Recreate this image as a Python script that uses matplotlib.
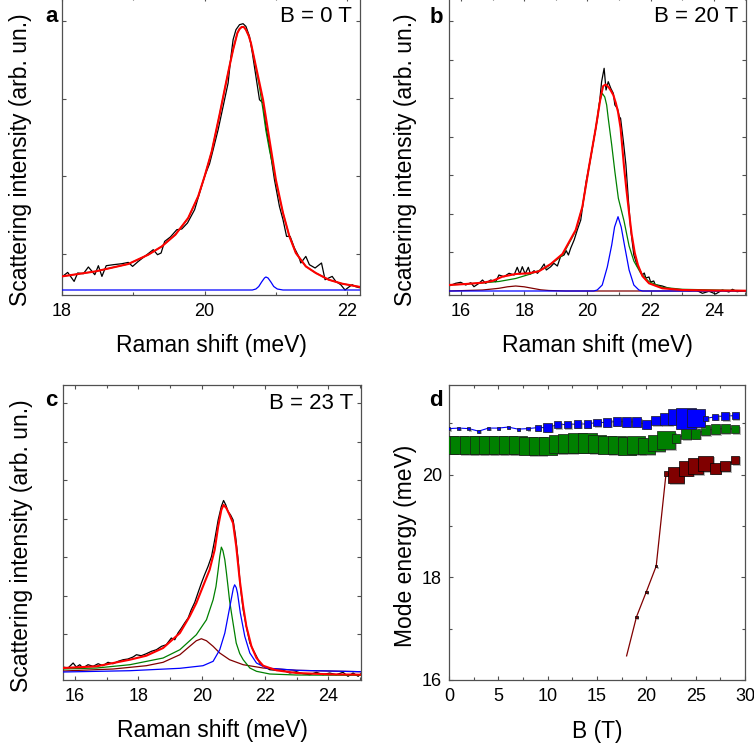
#%%
import numpy as np
import matplotlib
matplotlib.use('Agg')
import matplotlib.pyplot as plt
import matplotlib.patheffects as pe
from matplotlib.ticker import MultipleLocator, FixedLocator, NullFormatter

plt.rcParams['font.family'] = ['Liberation Sans', 'DejaVu Sans']

#%% Panel a, B = 0 T
black_a_E = [18.02, 18.08, 18.17, 18.22, 18.30, 18.37, 18.46, 18.51, 18.56, 18.62, 18.72, 18.84, 18.93, 18.99,
             19.07, 19.19, 19.28, 19.34, 19.39, 19.44, 19.52, 19.61, 19.68, 19.76, 19.86, 19.93, 20.00, 20.07,
             20.12, 20.19, 20.26, 20.33, 20.37, 20.40, 20.44, 20.49, 20.54, 20.58, 20.63, 20.67, 20.72, 20.77,
             20.82, 20.86, 20.91, 20.98, 21.05, 21.10, 21.15, 21.20, 21.26, 21.32, 21.35, 21.42, 21.47, 21.55,
             21.64, 21.69, 21.79, 21.84, 21.91, 21.97, 22.03, 22.07, 22.12, 22.17, 22.20]
black_a_I = [14.3, 17.6, 8.6, 17, 16.3, 23, 15.3, 24.3, 13.6, 24.3, 25.3, 26.3, 27.6, 23.6,
             28.6, 35.3, 40.3, 35.3, 37, 48.6, 53, 60.3, 61, 67, 80.3, 97, 113.6, 126.3,
             140.3, 160.3, 183.6, 207, 233.6, 250.3, 260.3, 265.3, 266.3, 263.6, 253.6, 237, 213.6, 190.3,
             187, 163.6, 143.6, 110.3, 83.6, 70.3, 53.6, 53.6, 42, 33.6, 27, 33.6, 25.3, 22,
             27, 10.3, 13.6, 8.6, 5.3, 0, 3.3, 5.3, 3.3, 2.3, 2.5]
red_a_E = [18.00, 18.47, 18.93, 19.21, 19.40, 19.59, 19.77, 19.91, 20.00, 20.10, 20.21, 20.30, 20.35, 20.40,
           20.46, 20.49, 20.52, 20.55, 20.58, 20.62, 20.65, 20.72, 20.77, 20.82, 20.86, 20.91, 20.95, 21.00,
           21.10, 21.19, 21.28, 21.42, 21.56, 21.74, 21.93, 22.20]
red_a_I = [13.6, 18.6, 26, 35.3, 43.6, 55.3, 72, 93.6, 113.6, 138.6, 175.3, 207, 224, 240.3,
           257, 261, 263, 263, 260.3, 254, 247, 223.6, 207, 190.3, 172.5, 150.3, 132.5, 110.3,
           77, 53.6, 37, 23.6, 17, 10.3, 6.3, 2.8]
green_a_E = [18.00, 18.47, 18.93, 19.21, 19.40, 19.59, 19.77, 19.91, 20.00, 20.10, 20.21, 20.30, 20.35, 20.40,
             20.46, 20.49, 20.52, 20.55, 20.58, 20.62, 20.65, 20.72, 20.77, 20.82, 20.86, 20.91, 20.95, 21.00,
             21.10, 21.19, 21.28, 21.42, 21.56, 21.74, 21.93, 22.20]
green_a_I = [13.6, 18.6, 26, 35.3, 43.6, 55.3, 72, 93.6, 113.6, 138.6, 175.3, 207, 224, 240.3,
             257, 261, 263, 263, 260.3, 254, 247, 222.5, 203, 180, 159.5, 140, 126.5, 108,
             77, 53.6, 37, 23.6, 17, 10.3, 6.3, 2.8]
blue_a_E = [18.00, 20.67, 20.72, 20.76, 20.80, 20.84, 20.86, 20.89, 20.93, 20.97, 21.02, 21.10, 22.20]
blue_a_I = [0, 0, 1, 3.5, 8, 12, 13, 12, 8, 3.5, 1, 0, 0]

#%% Panel b, B = 20 T
black_b_E = [15.62, 15.83, 15.99, 16.15, 16.31, 16.41, 16.57, 16.68, 16.78, 16.94, 17.10, 17.20, 17.36, 17.52,
             17.68, 17.78, 17.86, 17.94, 18.03, 18.13, 18.20, 18.31, 18.42, 18.52, 18.63, 18.70, 18.84, 18.94,
             19.05, 19.15, 19.26, 19.33, 19.40, 19.47, 19.58, 19.68, 19.79, 19.87, 19.96, 20.03, 20.10, 20.19,
             20.32, 20.39, 20.45, 20.53, 20.59, 20.66, 20.74, 20.82, 20.87, 20.95, 21.01, 21.05, 21.14, 21.22,
             21.30, 21.37, 21.47, 21.58, 21.66, 21.74, 21.80, 21.85, 21.95, 22.00, 22.10, 22.15, 22.21, 22.37,
             22.58, 22.79, 23.00, 23.22, 23.43, 23.64, 23.85, 24.06, 24.27, 24.48, 24.59, 24.74, 24.90, 25.02]
black_b_I = [5, 7.7, 8.7, 6, 8.3, 4.3, 7.7, 11, 7.7, 11, 9.3, 16, 14.3, 17.7,
             16, 23.7, 17, 24.3, 17, 23.7, 17, 20.3, 17.7, 21.7, 27, 21, 24.3, 27.7,
             25, 34.3, 36, 40.3, 36, 42.7, 51, 61, 71, 89.3, 109.3, 121, 133, 149.3,
             172.7, 190, 209.3, 222.7, 201, 209.3, 202.7, 197.7, 186, 182.7, 174.3, 172.7, 149.3, 126,
             90, 62, 36, 25, 21, 16, 18, 13, 14, 9, 10, 6, 6, 5,
             2.7, 1.7, 1, 0.3, 1, -2.3, -0.3, -3, 1, -1, 1.7, -0.7, 0.3, 0.3]
red_b_E = [15.62, 16.15, 16.68, 16.99, 17.31, 17.73, 18.15, 18.47, 18.84, 19.21, 19.63, 19.84, 20.05, 20.26,
           20.42, 20.50, 20.58, 20.66, 20.74, 20.82, 20.90, 20.97, 21.05, 21.16, 21.24, 21.32, 21.40, 21.50,
           21.60, 21.74, 21.95, 22.37, 23.00, 24.00, 25.02]
red_b_I = [6, 7, 8.3, 10, 14.3, 17, 17.7, 19.8, 27, 37, 61, 84, 124, 162,
           194, 205, 206.5, 204.3, 200.5, 196, 188, 179, 163, 124, 100, 78, 57, 38,
           26, 15, 7.7, 2.7, 1, 0.5, 0.3]
green_b_E = [15.62, 16.15, 16.68, 17.20, 17.73, 18.20, 18.70, 19.21, 19.63, 19.84, 20.05, 20.26, 20.38, 20.47,
             20.55, 20.61, 20.66, 20.77, 20.87, 20.98, 21.16, 21.32, 21.47, 21.69, 21.95, 22.37, 23.00, 24.06,
             25.02]
green_b_I = [6, 7, 8.1, 9.5, 12.5, 17, 23.5, 35.5, 60, 84, 123, 162, 188, 197.7,
             194, 186, 172.7, 146, 119.3, 92.7, 70, 45, 30, 17.7, 9.3, 3.7, 1.7, 1,
             0.3]
blue_b_E = [15.62, 20.20, 20.31, 20.47, 20.63, 20.77, 20.86, 20.97, 21.07, 21.18, 21.32, 21.47, 21.63, 21.75, 25.02]
blue_b_I = [0, 0, 1, 6, 24, 46, 64, 74.3, 64, 44.7, 21, 6, 1, 0, 0]
dred_b_E = [15.62, 16.68, 16.99, 17.20, 17.47, 17.73, 18.00, 18.26, 18.52, 18.78, 19.31, 25.02]
dred_b_I = [0, 1, 2, 2.7, 4.2, 5, 4.2, 2.7, 1.2, 0.5, 0, 0]

#%% Panel c, B = 23 T
black_c_E = [15.62, 15.78, 15.94, 16.04, 16.15, 16.25, 16.41, 16.57, 16.73, 16.88, 17.04, 17.20, 17.36, 17.52,
             17.67, 17.83, 17.94, 18.09, 18.25, 18.41, 18.57, 18.73, 18.88, 19.04, 19.15, 19.25, 19.36, 19.46,
             19.57, 19.67, 19.78, 19.88, 19.99, 20.09, 20.20, 20.31, 20.41, 20.52, 20.62, 20.69, 20.76, 20.83,
             20.91, 20.99, 21.07, 21.15, 21.22, 21.31, 21.41, 21.52, 21.62, 21.73, 21.83, 21.99, 22.15, 22.36,
             22.57, 22.78, 22.99, 23.20, 23.41, 23.62, 23.83, 24.04, 24.25, 24.46, 24.62, 24.78, 24.94, 25.03]
black_c_I = [5.5, 4.5, 9.5, 5.5, 7.8, 4.5, 7.8, 6.2, 8.8, 6.8, 10.2, 8.8, 11.2, 12.8,
             13.5, 15.5, 17.8, 16.8, 18.8, 21.2, 22.8, 26.2, 27.8, 34.5, 32.8, 39.5, 44.5, 49.5,
             54.5, 62.8, 70.2, 79.5, 89.5, 97.8, 106.2, 116.2, 132.8, 152.8, 166.2, 172.2, 167.8, 161.2,
             157.8, 152.8, 136.2, 112.8, 86.2, 62.8, 46.2, 29.5, 22.8, 16.2, 9.5, 5.5, 2.8, 2.2,
             2.2, -0.5, 0.8, -1.2, -2.2, 0.2, -2.2, -0.5, -2.2, 0.2, -3.8, -0.5, -3.8, -1.2]
red_c_E = [15.62, 16.68, 17.73, 18.25, 18.78, 19.31, 19.62, 19.83, 20.04, 20.25, 20.41, 20.52, 20.62, 20.69,
           20.78, 20.88, 20.99, 21.09, 21.20, 21.31, 21.41, 21.57, 21.73, 21.94, 22.36, 22.99, 24.04, 25.03]
red_c_I = [4.5, 6.2, 12.8, 16.8, 24.5, 39.5, 56.2, 69.5, 86.2, 102.8, 122.8, 146.2, 162.8, 167.8,
           164.5, 157.8, 149.5, 126.2, 92.8, 66.2, 46.2, 26.2, 14.5, 6.8, 2.2, -0.5, -1.8, -2.2]
green_c_E = [15.62, 16.68, 17.73, 18.78, 19.31, 19.83, 20.15, 20.36, 20.45, 20.52, 20.57, 20.62, 20.67, 20.73,
             20.78, 20.83, 20.88, 20.94, 21.09, 21.20, 21.31, 21.52, 21.73, 22.15, 22.99, 25.03]
green_c_I = [3.5, 4.5, 7.8, 14.5, 22.8, 37.8, 52.8, 72.8, 86, 102.8, 116, 125.5, 122, 112.8,
             100, 86.2, 72, 59.5, 29.5, 19, 12.8, 4.5, 1.2, -1.5, -2.5, -2.8]
blue_c_E = [15.62, 17.73, 19.31, 20.04, 20.36, 20.57, 20.73, 20.85, 20.96, 21.00, 21.04, 21.09, 21.13, 21.22,
            21.36, 21.52, 21.73, 22.04, 22.99, 25.03]
blue_c_I = [0.5, 1.8, 4.2, 6.8, 11.2, 22.8, 39.5, 59.5, 77.8, 84.5, 87.8, 85, 79.5, 59.5,
            36.2, 19.5, 9.5, 4.5, 2.2, 0.8]
dred_c_E = [15.62, 17.20, 18.25, 18.78, 19.31, 19.62, 19.83, 19.99, 20.15, 20.36, 20.57, 20.88, 21.31, 21.94,
            22.99, 25.03]
dred_c_I = [1.5, 3.5, 6.8, 10.2, 17.8, 26.2, 31.8, 33.8, 31.8, 26.2, 19.5, 12.8, 7.8, 4.5,
            2.2, 0.8]

#%% Panel d, mode energies vs field (marker side ~ spectral weight)
B_field = list(range(30))
blue_E = [20.90, 20.91, 20.90, 20.85, 20.91, 20.91, 20.93, 20.89, 20.90, 20.92, 20.92, 20.98, 20.98, 20.99, 20.99,
          21.02, 21.02, 21.04, 21.03, 21.03, 20.98, 21.06, 21.09, 21.13, 21.10, 21.10, 21.10, 21.13, 21.15, 21.15]
blue_w = [2.5, 2.5, 2.5, 2.5, 2.5, 2.5, 2.5, 2.5, 3, 5, 7, 6, 6, 6, 6,
          6, 7, 7, 8, 8, 7, 8, 10, 13, 17, 15, 4, 5, 7, 6]
green_E = [20.59, 20.59, 20.58, 20.58, 20.58, 20.58, 20.58, 20.58, 20.57, 20.56, 20.57, 20.60, 20.61, 20.62, 20.62,
           20.60, 20.59, 20.58, 20.57, 20.58, 20.56, 20.62, 20.68, 20.71, 20.79, 20.80, 20.87, 20.89, 20.90, 20.89]
green_w = [15, 15, 15, 15, 15, 15, 15, 15, 15, 15, 15, 15, 16, 16, 16,
           15, 15, 15, 15, 15, 14, 14, 15, 7, 8, 8, 8, 8, 7.5, 6.5]
red_B = [18, 19, 20, 21, 22, 23, 24, 25, 26, 27, 28, 29]
red_E = [16.47, 17.23, 17.72, 18.22, 20.03, 19.99, 20.12, 20.17, 20.22, 20.13, 20.17, 20.29]
red_w = [0, 2, 2, 2, 4, 13, 12, 13, 13, 9, 8, 7]

#%% Figure
fig = plt.figure(figsize=(7.54, 7.46), dpi=100)
W, H = 754, 746

def px_axes(l, t, r, b):
    return fig.add_axes([l / W, 1 - b / H, (r - l) / W, (b - t) / H])

ax_a = px_axes(62, -3, 360, 295)
ax_b = px_axes(449, -3, 746, 295)
ax_c = px_axes(63, 385, 361, 680)
ax_d = px_axes(449, 385, 745, 680)

frame_col = '#505050'
for ax in [ax_a, ax_b, ax_c, ax_d]:
    for s in ax.spines.values():
        s.set_color(frame_col)
        s.set_linewidth(0.9)
    ax.tick_params(which='both', direction='in', top=True, right=True, colors=frame_col,
                   labelcolor='black', labelsize=13, width=0.8)
    ax.tick_params(which='major', length=3)
    ax.tick_params(which='minor', length=2.2)
    ax.tick_params(axis='x', pad=6)
    ax.tick_params(axis='y', pad=5)

lab_fs = 16.5

# spectra
def spectrum(ax, black, comps, red, xlim, ylim, yticks, xmaj, title):
    ax.plot(black[0], black[1], color='black', lw=0.9, zorder=2)
    for (e, i, c) in comps:
        ax.plot(e, i, color=c, lw=0.9, zorder=3)
    ax.plot(red[0], red[1], color='#ff0000', lw=1.5, zorder=4)
    ax.set_xlim(*xlim)
    ax.set_ylim(*ylim)
    ax.xaxis.set_major_locator(MultipleLocator(xmaj))
    ax.xaxis.set_minor_locator(MultipleLocator(1))
    ax.yaxis.set_major_locator(FixedLocator(yticks))
    ax.yaxis.set_major_formatter(NullFormatter())
    ax.set_xlabel('Raman shift (meV)', fontsize=lab_fs)
    ax.set_ylabel('Scattering intensity (arb. un.)', fontsize=lab_fs)
    ax.xaxis.set_label_coords(0.5, -0.132)
    ax.text(0.974, 0.936, title, transform=ax.transAxes, ha='right', va='center', fontsize=16)

spectrum(ax_a, (black_a_E, black_a_I),
         [(green_a_E, green_a_I, '#008000'), (blue_a_E, blue_a_I, '#0000ff')],
         (red_a_E, red_a_I), (18, 22.18), (-5, 293), [36.3 + 77.5 * k for k in range(4)], 2, 'B = 0 T')
spectrum(ax_b, (black_b_E, black_b_I),
         [(dred_b_E, dred_b_I, '#800000'), (blue_b_E, blue_b_I, '#0000ff'), (green_b_E, green_b_I, '#008000')],
         (red_b_E, red_b_I), (15.62, 25.02), (-4, 294), [38.5 * k for k in range(1, 8)], 2, 'B = 20 T')
spectrum(ax_c, (black_c_E, black_c_I),
         [(dred_c_E, dred_c_I, '#800000'), (green_c_E, green_c_I, '#008000'), (blue_c_E, blue_c_I, '#0000ff')],
         (red_c_E, red_c_I), (15.62, 25.03), (-7.5, 287.8), [38.5 * k for k in range(1, 8)], 2, 'B = 23 T')

ax_a.yaxis.set_label_coords(-0.100, 0.453)
ax_b.yaxis.set_label_coords(-0.108, 0.453)
ax_c.yaxis.set_label_coords(-0.100, 0.454)

# mode energies
shadow = [pe.SimplePatchShadow(offset=(1.2, -1.2), shadow_rgbFace='0.45', alpha=0.5), pe.Normal()]
def msize(w):
    return [(v * 1.2 * 0.72) ** 2 for v in w]

ax_d.plot(red_B, red_E, color='#800000', lw=0.9, zorder=2)
ax_d.scatter(red_B, red_E, s=msize(red_w), marker='s', color='#800000', edgecolors='black',
             linewidths=0.5, zorder=3, path_effects=shadow)
ax_d.plot(B_field, green_E, color='#008000', lw=0.9, zorder=2)
ax_d.scatter(B_field, green_E, s=msize(green_w), marker='s', color='#008000', edgecolors='#1a1a1a',
             linewidths=0.5, zorder=3, path_effects=shadow)
ax_d.plot(B_field, blue_E, color='#0000ff', lw=0.8, zorder=4)
ax_d.scatter(B_field, blue_E, s=msize(blue_w), marker='s', color='#0000ff', edgecolors='#1a1a1a',
             linewidths=0.5, zorder=5, path_effects=shadow)
ax_d.set_xlim(0, 30)
ax_d.set_ylim(16, 21.75)
ax_d.xaxis.set_major_locator(MultipleLocator(5))
ax_d.xaxis.set_minor_locator(MultipleLocator(2.5))
ax_d.yaxis.set_major_locator(MultipleLocator(2))
ax_d.yaxis.set_minor_locator(MultipleLocator(1))
ax_d.set_xlabel('B (T)', fontsize=lab_fs)
ax_d.set_ylabel('Mode energy (meV)', fontsize=lab_fs)
ax_d.xaxis.set_label_coords(0.5, -0.136)
ax_d.yaxis.set_label_coords(-0.108, 0.454)

# panel letters
for letter, x, y in [('a', 45, 22), ('b', 430, 23), ('c', 45, 406), ('d', 429, 406)]:
    fig.text(x / W, 1 - y / H, letter, fontsize=16, fontweight='bold', ha='left', va='baseline')

fig.savefig('out.png', dpi=100)
